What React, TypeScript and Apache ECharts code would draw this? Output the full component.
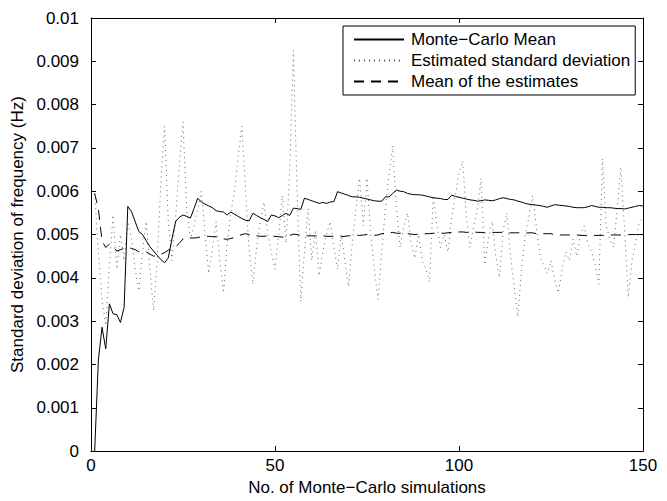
import React, { useEffect, useRef } from "react";
import * as echarts from "echarts";

// values in units of 0.001 Hz, for simulations 1..150
const monteCarloMean = [
  0, 2.1, 2.86, 2.36, 3.4, 3.17, 3.15, 2.97, 3.32, 5.65,
  5.53, 5.3, 5.07, 5.0, 4.86, 4.72, 4.62, 4.52, 4.42, 4.35,
  4.46, 4.9, 5.3, 5.4, 5.45, 5.42, 5.38, 5.6, 5.84, 5.75,
  5.7, 5.66, 5.62, 5.55, 5.53, 5.52, 5.45, 5.52, 5.47, 5.42,
  5.37, 5.33, 5.32, 5.49, 5.44, 5.39, 5.35, 5.3, 5.45, 5.43,
  5.39, 5.44, 5.49, 5.44, 5.61, 5.6, 5.58, 5.84, 5.81, 5.78,
  5.75, 5.72, 5.74, 5.72, 5.75, 5.76, 5.99, 5.96, 5.93, 5.9,
  5.87, 5.87, 5.86, 5.84, 5.82, 5.8, 5.78, 5.77, 5.77, 5.87,
  5.87, 5.95, 6.03, 6.0, 5.99, 5.95, 5.93, 5.92, 5.92, 5.91,
  5.89, 5.87, 5.85, 5.84, 5.83, 5.81, 5.81, 5.91, 5.88, 5.86,
  5.84, 5.82, 5.8, 5.79, 5.77, 5.78, 5.8, 5.79, 5.78, 5.8,
  5.83, 5.85, 5.83, 5.81, 5.8, 5.77, 5.75, 5.72, 5.7, 5.69,
  5.68, 5.67, 5.65, 5.63, 5.66, 5.69, 5.68, 5.67, 5.66, 5.65,
  5.63, 5.62, 5.62, 5.62, 5.64, 5.67, 5.65, 5.63, 5.63, 5.62,
  5.62, 5.61, 5.6, 5.6, 5.59, 5.61, 5.63, 5.65, 5.67, 5.66,
];

const estimatedStd = [
  5.95, 4.6, 3.5, 2.9, 4.3, 5.45, 4.2, 5.0, 4.4, 5.3,
  4.9, 4.2, 3.7, 4.6, 5.3, 4.2, 3.25, 4.4, 6.2, 7.5,
  5.3, 4.4, 5.4, 6.6, 7.6, 5.6, 4.9, 5.2, 5.6, 6.0,
  5.0, 4.1, 4.7, 5.3, 4.4, 3.65, 4.8, 5.5, 6.0, 6.8,
  7.5, 6.0, 4.6, 3.85, 4.7, 5.3, 5.75, 5.0, 4.6, 4.2,
  5.0, 5.9, 4.8, 6.5, 9.25, 6.0, 3.45, 4.6, 5.6, 4.4,
  5.1, 4.05, 4.6, 5.0, 5.3, 4.7, 4.2, 5.0, 4.4, 3.8,
  4.8, 5.6, 6.3, 5.2, 6.3, 5.0, 4.2, 3.5, 4.6, 5.6,
  6.4, 7.05, 5.6, 4.7, 5.2, 5.5, 4.8, 4.45, 5.0, 4.4,
  4.2, 3.9, 5.9, 5.2, 4.7, 5.0, 4.6, 5.4, 5.9, 6.4,
  6.7, 5.4, 4.7, 5.2, 5.6, 6.3, 4.3, 4.9, 5.3, 4.5,
  4.0, 5.1, 5.5, 4.5, 3.8, 3.1, 4.2, 5.0, 5.4, 5.9,
  5.2, 4.5, 4.3, 4.1, 4.4, 3.95, 3.65, 4.2, 4.6, 4.4,
  4.9, 4.5, 5.0, 5.2, 4.8, 4.6, 4.3, 3.85, 6.75, 5.2,
  4.9, 4.7, 5.6, 6.55, 5.1, 3.55, 4.4, 4.8, 5.3, 5.4,
];

const meanOfEstimates = [
  5.95, 5.6, 4.85, 4.7, 4.78, 4.72, 4.62, 4.65, 4.68, 4.7,
  4.68, 4.65, 4.6, 4.62, 4.6, 4.55, 4.5, 4.52, 4.55, 4.58,
  4.64, 4.68, 4.72, 4.8, 4.9, 4.93, 4.92, 4.92, 4.93, 4.95,
  4.96, 4.96, 4.95, 4.95, 4.92, 4.9, 4.89, 4.91, 4.93, 4.97,
  5.0, 5.02, 5.0, 4.98, 4.97, 4.96, 4.96, 4.97, 4.96, 4.96,
  4.95, 4.94, 4.94, 4.98, 5.01, 5.0, 4.98, 4.97, 4.97, 4.97,
  4.97, 4.96, 4.97, 4.96, 4.96, 4.96, 4.94, 4.95, 4.96, 4.97,
  4.98, 4.98, 4.98, 4.99, 5.0, 5.0, 4.98, 4.99, 5.02, 5.03,
  5.04, 5.05, 5.03, 5.03, 5.02, 5.02, 5.01, 5.0, 5.01, 5.01,
  5.02, 5.02, 5.03, 5.04, 5.03, 5.03, 5.04, 5.05, 5.05, 5.06,
  5.06, 5.05, 5.05, 5.06, 5.05, 5.05, 5.04, 5.05, 5.05, 5.05,
  5.05, 5.05, 5.04, 5.04, 5.04, 5.04, 5.04, 5.03, 5.04, 5.04,
  5.02, 5.02, 5.02, 5.02, 5.02, 4.99, 4.99, 4.99, 4.99, 4.99,
  4.99, 4.99, 4.98, 4.98, 4.98, 4.98, 4.98, 4.98, 4.98, 4.98,
  4.99, 4.99, 4.99, 4.99, 5.0, 5.0, 5.0, 5.0, 5.0, 5.0,
];

const xTicks = [0, 50, 100, 150];
const seriesNames = ["Monte−Carlo Mean", "Estimated standard deviation", "Mean of the estimates"];
const xAxisTitle = "No. of Monte−Carlo simulations";
const yAxisTitle = "Standard deviation of frequency (Hz)";

const FONT = "Liberation Sans, Arial, Helvetica, sans-serif";

const toPairs = (arr: number[]) => arr.map((v, i) => [i + 1, v / 1000]);

export default function App() {
  const ref = useRef<HTMLDivElement>(null);
  useEffect(() => {
    if (!ref.current) return;
    const chart = echarts.init(ref.current, undefined, { renderer: "svg" });
    const axisCommon = {
      axisLine: { show: true, onZero: false, lineStyle: { color: "#000", width: 1 } },
      axisTick: { show: true, inside: true, length: 5, lineStyle: { color: "#000", width: 1 } },
      splitLine: { show: false },
    };
    chart.setOption({
      animation: false,
      backgroundColor: "#fff",
      textStyle: { fontFamily: FONT },
      grid: { left: 91, right: 24, top: 18, bottom: 46, containLabel: false },
      legend: {
        orient: "vertical",
        left: 343,
        top: 26,
        padding: [5, 5, 5, 10],
        itemGap: 4,
        itemWidth: 50,
        itemHeight: 17,
        borderColor: "#000",
        borderWidth: 1,
        backgroundColor: "#fff",
        itemStyle: { opacity: 0 },
        textStyle: { fontSize: 17, color: "#000", fontFamily: FONT, padding: [0, 0, 0, 2] },
        data: seriesNames,
      },
      xAxis: [
        {
          type: "value",
          min: 0,
          max: 150,
          interval: 50,
          position: "bottom",
          name: xAxisTitle,
          nameLocation: "middle",
          nameGap: 27,
          nameTextStyle: { fontSize: 17, color: "#000", fontFamily: FONT },
          axisLabel: {
            fontSize: 17,
            color: "#000",
            margin: 6,
            fontFamily: FONT,
            formatter: (v: number) => (xTicks.includes(v) ? String(v) : ""),
          },
          ...axisCommon,
        },
        {
          type: "value",
          min: 0,
          max: 150,
          interval: 50,
          position: "top",
          axisLabel: { show: false },
          ...axisCommon,
        },
      ],
      yAxis: [
        {
          type: "value",
          min: 0,
          max: 0.01,
          interval: 0.001,
          position: "left",
          name: yAxisTitle,
          nameLocation: "middle",
          nameGap: 60,
          nameTextStyle: { fontSize: 17, color: "#000", fontFamily: FONT },
          axisLabel: {
            fontSize: 17,
            color: "#000",
            margin: 12,
            fontFamily: FONT,
            formatter: (v: number) => String(parseFloat(v.toFixed(4))),
          },
          ...axisCommon,
        },
        {
          type: "value",
          min: 0,
          max: 0.01,
          interval: 0.001,
          position: "right",
          axisLabel: { show: false },
          ...axisCommon,
        },
      ],
      series: [
        {
          name: seriesNames[0],
          type: "line",
          data: toPairs(monteCarloMean),
          showSymbol: false,
          symbol: "none",
          lineStyle: { color: "#000", width: 1, type: "solid" },
          itemStyle: { color: "#000" },
          z: 3,
        },
        {
          name: seriesNames[1],
          type: "line",
          data: toPairs(estimatedStd),
          showSymbol: false,
          symbol: "none",
          lineStyle: { color: "#555", width: 0.9, type: [1, 4] },
          itemStyle: { color: "#555" },
          z: 2,
        },
        {
          name: seriesNames[2],
          type: "line",
          data: toPairs(meanOfEstimates),
          showSymbol: false,
          symbol: "none",
          lineStyle: { color: "#000", width: 1, type: [10, 7] },
          itemStyle: { color: "#000" },
          z: 2,
        },
      ],
    });
    return () => chart.dispose();
  }, []);
  return <div ref={ref} style={{ width: 667, height: 501, position: "absolute", left: 0, top: 0 }} />;
}
